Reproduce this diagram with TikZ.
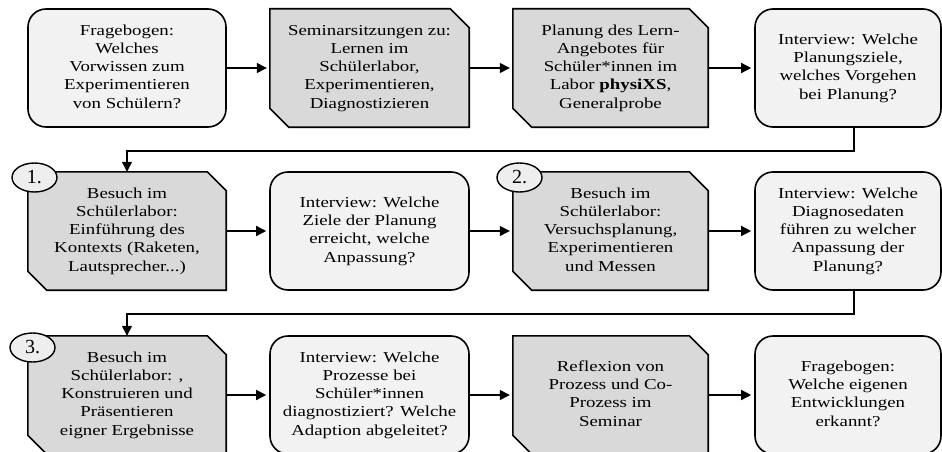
\documentclass[tikz,border=0pt]{standalone}
\usepackage{fontspec}
\setmainfont{Liberation Serif}
\usepackage{graphicx}
\usetikzlibrary{arrows.meta,backgrounds,shapes.geometric}
\definecolor{lightfill}{HTML}{F2F2F2}
\definecolor{darkfill}{HTML}{D9D9D9}
\definecolor{numfill}{HTML}{EEEEEE}
\newcommand{\boxtxt}[1]{\scalebox{1.24}[1]{\fontsize{15.2}{18.3}\selectfont\begin{tabular}{@{}c@{}}#1\end{tabular}}}
\begin{document}
\begin{tikzpicture}[x=1pt,y=-1pt,
  lightbox/.style={draw, line width=1.6pt, rounded corners=18pt, fill=lightfill,
    minimum height=118pt, inner sep=0pt},
  darkbox/.style={minimum height=118pt, inner sep=0pt},
  chamfer/.style={draw, line width=1.6pt, fill=darkfill, line join=miter},
  conn/.style={line width=1.4pt, -{Triangle[length=10pt,width=10pt]}},
  numbadge/.style={ellipse, draw, line width=1.4pt, fill=numfill, minimum width=45pt,
    minimum height=29pt, inner sep=0pt, font=\fontsize{20}{22}\selectfont}]
\useasboundingbox (0,0) rectangle (942,452);

% row 1
\node[lightbox, minimum width=198pt] (a1) at (127,68)
  {\boxtxt{Fragebogen:\\Welches\\Vorwissen zum\\Experimentieren\\von Schülern?}};
\node[darkbox, minimum width=199pt] (a2) at (369.5,68)
  {\boxtxt{Seminarsitzungen zu:\\Lernen im\\Schülerlabor,\\Experimentieren,\\Diagnostizieren}};
\node[darkbox, minimum width=195pt] (a3) at (610.5,68)
  {\boxtxt{Planung des Lern-\\Angebotes für\\Schüler*innen im\\Labor \textbf{physiXS},\\Generalprobe}};
\node[lightbox, minimum width=186pt] (a4) at (848,68)
  {\boxtxt{Interview: Welche\\Planungsziele,\\welches Vorgehen\\bei Planung?}};

% row 2
\node[darkbox, minimum width=198pt] (b1) at (127,231)
  {\boxtxt{Besuch im\\Schülerlabor:\\Einführung des\\Kontexts (Raketen,\\Lautsprecher...)}};
\node[lightbox, minimum width=199pt] (b2) at (369.5,231)
  {\boxtxt{Interview: Welche\\Ziele der Planung\\erreicht, welche\\Anpassung?}};
\node[darkbox, minimum width=195pt] (b3) at (610.5,231)
  {\boxtxt{Besuch im\\Schülerlabor:\\Versuchsplanung,\\Experimentieren\\und Messen}};
\node[lightbox, minimum width=186pt] (b4) at (848,231)
  {\boxtxt{Interview: Welche\\Diagnosedaten\\führen zu welcher\\Anpassung der\\Planung?}};

% row 3
\node[darkbox, minimum width=198pt] (c1) at (127,395)
  {\boxtxt{Besuch im\\Schülerlabor: ,\\Konstruieren und\\Präsentieren\\eigner Ergebnisse}};
\node[lightbox, minimum width=199pt] (c2) at (369.5,395)
  {\boxtxt{Interview: Welche\\Prozesse bei\\Schüler*innen\\diagnostiziert? Welche\\Adaption abgeleitet?}};
\node[darkbox, minimum width=195pt] (c3) at (610.5,395)
  {\boxtxt{Reflexion von\\Prozess und Co-\\Prozess im\\Seminar}};
\node[lightbox, minimum width=186pt] (c4) at (848,395)
  {\boxtxt{Fragebogen:\\Welche eigenen\\Entwicklungen\\erkannt?}};

% chamfered shapes behind dark boxes
\begin{pgfonlayer}{background}
\fill[white] (0,0) rectangle (942,452);
\foreach \n in {a2,a3,b1,b3,c1,c3}{
  \draw[chamfer] (\n.north west) -- ([xshift=-19pt]\n.north east)
    -- ([yshift=-19pt]\n.north east) -- (\n.south east)
    -- ([xshift=19pt]\n.south west) -- ([yshift=19pt]\n.south west) -- cycle;
}
\end{pgfonlayer}

% number badges
\node[numbadge] (n1) at (34.5,177.5) {1.};
\node[numbadge] (n2) at (519.5,177.5) {2.};
\node[numbadge] (n3) at (32.5,347.5) {3.};

% connectors
\foreach \p/\q in {a1/a2,a2/a3,a3/a4,b1/b2,b2/b3,b3/b4,c1/c2,c2/c3,c3/c4}{
  \draw[conn, shorten >=3pt] (\p.east) -- (\q.west);
}
\draw[conn] ([xshift=6pt]a4.south) |- ([yshift=21pt]b1.north) -- (b1.north);
\draw[conn] ([xshift=6pt]b4.south) |- ([yshift=22pt]c1.north) -- (c1.north);
\end{tikzpicture}
\end{document}
